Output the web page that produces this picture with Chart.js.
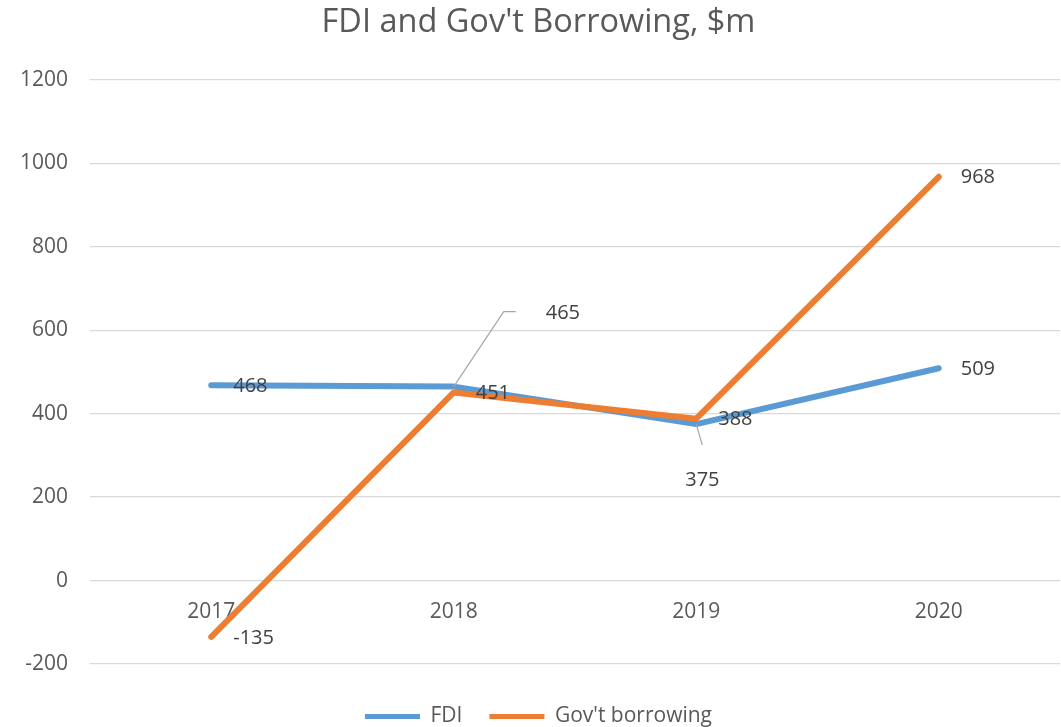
<!DOCTYPE html>
<html>
<head>
<meta charset="utf-8">
<script src="https://cdn.jsdelivr.net/npm/chart.js@4.4.0/dist/chart.umd.min.js"></script>
<style>
  html, body { margin: 0; padding: 0; background: #ffffff; }
  #wrap { width: 1061px; height: 727px; }
</style>
</head>
<body>
<div id="wrap"><canvas id="lineChart"></canvas></div>
<script>
// data
var years = ['2017', '2018', '2019', '2020'];
var fdi = [468, 465, 375, 509];
var govBorrowing = [-135, 451, 388, 968];
var yTicks = [-200, 0, 200, 400, 600, 800, 1000, 1200];

var textGrey = '#595959';
var fontName = "'Open Sans', 'Liberation Sans', sans-serif";

// value labels, Excel style ("right" of point); a couple were dragged off with leader lines
var pointLabels = {
	id: 'pointLabels',
	afterDatasetsDraw: function(chart, args, opts) {
		var ctx = chart.ctx;
		ctx.save();
		ctx.font = '20px ' + fontName;
		ctx.fillStyle = '#404040';
		ctx.textBaseline = 'middle';
		ctx.textAlign = 'left';
		chart.data.datasets.forEach(function(ds, di) {
			var meta = chart.getDatasetMeta(di);
			meta.data.forEach(function(pt, i) {
				var moved = (opts.moved[di] || {})[i];
				var tx = pt.x + 22, ty = pt.y + 1;
				if (moved) {
					tx = pt.x + moved.dx;
					ty = pt.y + moved.dy;
					ctx.beginPath();
					ctx.strokeStyle = '#a6a6a6';
					ctx.lineWidth = 1.2;
					ctx.moveTo(pt.x, pt.y);
					moved.leader.forEach(function(p) { ctx.lineTo(pt.x + p[0], pt.y + p[1]); });
					ctx.stroke();
				}
				ctx.fillText(String(ds.data[i]), tx, ty);
			});
		});
		ctx.restore();
	}
};

var chart = new Chart(document.getElementById('lineChart'), {
	type: 'line',
	data: {
		labels: years,
		datasets: [
			{
				label: 'FDI',
				data: fdi,
				borderColor: '#5b9bd5',
				backgroundColor: '#5b9bd5',
				borderWidth: 6,
				borderCapStyle: 'round',
				borderJoinStyle: 'round',
				pointRadius: 0,
				tension: 0,
				order: 1
			},
			{
				label: "Gov't borrowing",
				data: govBorrowing,
				borderColor: '#ed7d31',
				backgroundColor: '#ed7d31',
				borderWidth: 6,
				borderCapStyle: 'round',
				borderJoinStyle: 'round',
				pointRadius: 0,
				tension: 0,
				order: 0
			}
		]
	},
	options: {
		responsive: true,
		maintainAspectRatio: false,
		animation: false,
		// a bit of left padding nudges title and legend right like the original
		layout: { padding: { left: 17, right: 1, top: 0, bottom: -10 } },
		plugins: {
			title: {
				display: true,
				text: "FDI and Gov't Borrowing, $m",
				color: textGrey,
				font: { family: fontName, size: 32.5, weight: 'normal' },
				padding: { top: 3, bottom: 38 }
			},
			legend: {
				position: 'bottom',
				// empty title only used as a spacer between the x labels and the legend
				title: { display: true, text: '', font: { size: 10 }, padding: { top: 0, bottom: 3 } },
				labels: {
					color: textGrey,
					font: { family: fontName, size: 21 },
					boxWidth: 55,
					boxHeight: 5,
					padding: 27,
					sort: function(a, b) { return a.datasetIndex - b.datasetIndex; },
					generateLabels: function(c) {
						return c.data.datasets.map(function(ds, i) {
							return {
								text: ds.label,
								fillStyle: ds.borderColor,
								strokeStyle: ds.borderColor,
								lineWidth: 0,
								fontColor: textGrey,
								datasetIndex: i,
								hidden: false
							};
						});
					}
				}
			},
			tooltip: { enabled: false },
			pointLabels: {
				moved: {
					0: {
						1: { dx: 92, dy: -73, leader: [[50, -75], [62, -75]] },
						2: { dx: -11, dy: 56, leader: [[6, 21]] }
					}
				}
			}
		},
		scales: {
			x: {
				position: { y: 0 },
				offset: true,
				grid: { display: false },
				border: { display: false },
				ticks: {
					color: textGrey,
					font: { family: fontName, size: 21 },
					padding: 11
				}
			},
			y: {
				min: -200,
				max: 1200,
				afterBuildTicks: function(scale) {
					scale.ticks = yTicks.map(function(v) { return { value: v }; });
				},
				afterFit: function(scale) { scale.width = 73; },
				grid: { color: '#d9d9d9', lineWidth: 1.3, drawTicks: false },
				border: { display: false },
				ticks: {
					color: textGrey,
					font: { family: fontName, size: 21 },
					padding: 22,
					callback: function(v) { return String(v); }
				}
			}
		}
	},
	plugins: [pointLabels]
});
</script>
</body>
</html>
